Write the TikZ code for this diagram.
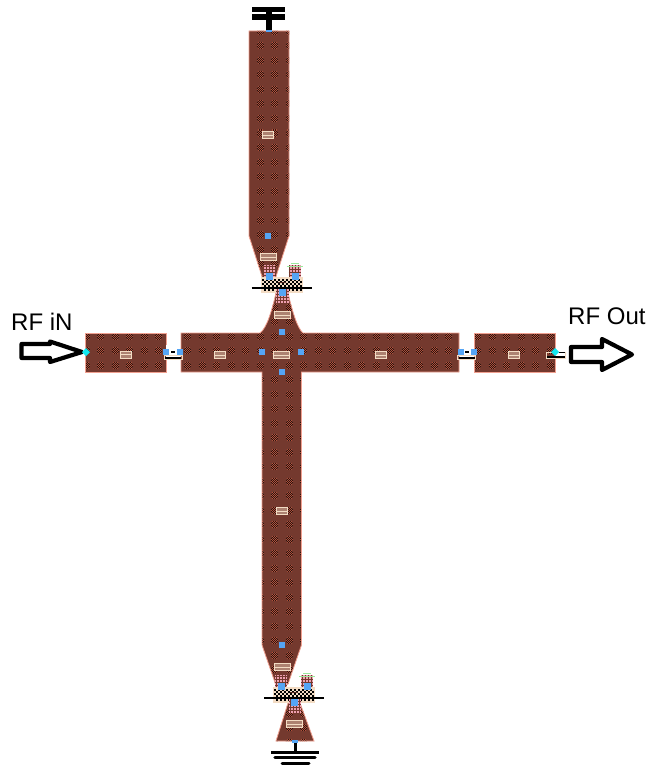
\documentclass[tikz,border=0pt]{standalone}
\usepackage{fontspec}
\setmainfont{Liberation Sans}
\definecolor{metal}{HTML}{74392E}
\definecolor{edgepink}{HTML}{F0A090}
\definecolor{viatan}{HTML}{F3DCC4}
\definecolor{portblue}{HTML}{55A5F5}
\definecolor{portcyan}{HTML}{10E8F0}
\definecolor{padpink}{HTML}{EFA0B0}
\definecolor{padgreen}{HTML}{9CE89C}
\definecolor{spotred}{HTML}{B4523C}
\definecolor{spotdark}{HTML}{2A1410}
\tikzset{
  spotcore/.style={spotred,line width=3pt,dash pattern=on 7pt off 7.5pt},
  spotcap/.style={spotred,line width=2pt,dash pattern=on 5pt off 9.5pt},
  spottwo/.style={spotdark,line width=1pt,dash pattern=on 1pt off 1pt on 1pt off 11.5pt},
  spotfour/.style={spotdark,line width=1pt,dash pattern=on 1pt off 1pt on 1pt off 1pt on 1pt off 1pt on 1pt off 7.5pt},
  spotthree/.style={spotdark,line width=1pt,dash pattern=on 1pt off 1pt on 1pt off 1pt on 1pt off 9.5pt}
}
\newcommand{\weaverow}[3]{%
  \draw[spotcore] (#1-3.5,#2) -- (#3,#2);
  \draw[spotcap] (#1-2.5,#2-2.5) -- (#3,#2-2.5) (#1-2.5,#2+2.5) -- (#3,#2+2.5);
  \draw[spottwo] (#1-1.5,#2-3) -- (#3,#2-3) (#1-1.5,#2+3) -- (#3,#2+3);
  \draw[spotfour] (#1-3.5,#2-1) -- (#3,#2-1) (#1-3.5,#2+1) -- (#3,#2+1);
  \draw[spotthree] (#1-2.5,#2-2) -- (#3,#2-2) (#1-2.5,#2) -- (#3,#2) (#1-2.5,#2+2) -- (#3,#2+2);}
\newcommand{\weavelattice}[4]{%
  \pgfmathsetmacro{\nexty}{#2+14.5}%
  \foreach \sy in {#2,\nexty,...,#4}{\weaverow{#1}{\sy}{#3}}}
\newcommand{\metalshape}[5]{%
  \fill[metal] #1;
  \begin{scope}\clip #1;
    \weavelattice{#2}{#3}{#4}{#5}
  \end{scope}
  \draw[edgepink,line width=.8pt] #1;}
\tikzset{
  x=1pt,y=-1pt,
  viamark/.pic={\fill[metal!55!viatan] (-5.5,-3.5) rectangle (5.5,3.5);
    \draw[viatan,line width=1pt] (-5.5,-3.5) rectangle (5.5,3.5);
    \draw[viatan,line width=1pt] (-5.5,0) -- (5.5,0);},
  bigvia/.pic={\fill[metal!55!viatan] (-8,-3.8) rectangle (8,3.8);
    \draw[viatan,line width=1pt] (-8,-3.8) rectangle (8,3.8);
    \draw[viatan,line width=1pt] (-8,0) -- (8,0);},
  blueport/.pic={\fill[portblue] (-3,-3) rectangle (3,3);},
  cyanport/.pic={\fill[portcyan] (-4,0) -- (0,-4) -- (4,0) -- (0,4) -- cycle;},
  gap/.pic={\fill[white] (-7,-7) rectangle (7,7);
    \fill[black] (-2,-1) rectangle (2,1);
    \draw[viatan,line width=1pt] (-9,3) rectangle (9,7);
    \draw[black,line width=1.5pt] (-8,5.8) -- (8,5.8);},
  fet/.pic={
    \fill[padpink] (-19,-23) rectangle (-7,-5);
    \foreach \a in {-18,-15,...,-8}{\draw[metal,line width=.7pt] (\a,-23) -- (\a,-5);}
    \foreach \b in {-22,-19,...,-6}{\draw[metal,line width=.7pt] (-19,\b) -- (-7,\b);}
    \fill[padpink] (7,-23) rectangle (19,-5);
    \foreach \a in {8,11,...,18}{\draw[metal,line width=.7pt] (\a,-23) -- (\a,-5);}
    \foreach \b in {-22,-19,...,-6}{\draw[metal,line width=.7pt] (7,\b) -- (19,\b);}
    \draw[padgreen,line width=.9pt] (5,-22) -- (21,-22) (9,-25) -- (17,-25);
    \fill[viatan] (-21,-11) rectangle (21,5);
    \foreach \a in {-20,-16,...,16}{\foreach \b in {-9,-5,-1}{\fill[black] (\a,\b) rectangle +(2,2);\fill[black] (\a+2,\b+2) rectangle +(2,2);}}
    \draw[black,line width=1.8pt] (-30,0) -- (30,0);
    \fill[padpink] (-5.5,1) rectangle (7,15);
    \foreach \a in {-4,-1,...,6}{\draw[metal,line width=.7pt] (\a,1) -- (\a,15);}
    \foreach \b in {3,6,...,14}{\draw[metal,line width=.7pt] (-5.5,\b) -- (7,\b);}
    \fill[portblue] (-16,-15.5) rectangle (-9,-8.5);
    \fill[portblue] (10,-15.5) rectangle (17,-8.5);
    \fill[portblue] (-3,1) rectangle (4,8);
    \draw[metal!70!black,line width=.7pt] (-4,-6) -- (4,-6);},
  hollowarrow/.style={draw=black,fill=white,line width=4.2pt,line join=round}
}
\begin{document}
\begin{tikzpicture}
\useasboundingbox (0,0) rectangle (661,765);
\fill[white] (0,0) rectangle (661,765);
\metalshape{(249,31) -- (289,31) -- (289,236) -- (275.5,278) -- (262.5,278) -- (249,236) -- cycle}{245.5}{17}{295}{285}
\metalshape{(276,293) -- (288,293) .. controls (292,310) and (297,328) .. (303,333) -- (459,333) -- (459,372) -- (301.5,372) -- (301.5,645) -- (288,684) -- (275.5,684) -- (262,645) -- (262,372) -- (181,372) -- (181,333) -- (260,333) .. controls (267,328) and (272,310) .. (276,293) -- cycle}{158.5}{278}{465}{690}
\metalshape{(85.5,333) rectangle (166,372)}{71.5}{321.5}{170}{380}
\metalshape{(474,333) rectangle (555,372)}{463}{321.5}{560}{380}
\metalshape{(288,703) -- (300,703) -- (314,741) -- (276,741) -- cycle}{260}{698.5}{320}{745}
\pic at (281.5,288) {fet};
\pic at (294,698) {fet};
\foreach \vx/\vy in {268/135,126/354.5,220/355,381/355,514/355,282/511}{\pic at (\vx,\vy) {viamark};}
\foreach \vx/\vy in {268/257,282/315,281/355,282/667,294/724}{\pic at (\vx,\vy) {bigvia};}
\pic at (173,352) {gap};
\pic at (466.5,352) {gap};
\draw[viatan,line width=1pt] (546,352) -- (565,352) -- (565,358) -- (546,358) -- cycle;
\draw[black,line width=1.4pt] (547,357) -- (565,357);
\draw[black,line width=1.4pt] (559,352.5) -- (565,352.5);
\foreach \px/\py in {268/235.5,282/332,262/352,301/352,282/372,282/645,166/352,180/352,460.5/352,474/352}{\pic at (\px,\py) {blueport};}
\node[inner sep=0pt,minimum width=6pt,minimum height=2pt,fill=portblue] (topport) at (269,31.5) {};
\coordinate (topstem) at (269,10);
\draw[black,line width=6pt] (topport.north) -- (topstem);
\draw[black,line width=5.5pt] (252,9.7) -- (285,9.7);
\draw[black,line width=5.5pt] (252,17.2) -- (285,17.2);
\node[inner sep=0pt,minimum width=6pt,minimum height=3pt,fill=portblue] (botport) at (295,741) {};
\coordinate (botstem) at (295,752);
\draw[black,line width=3pt] (botport.south) -- (botstem);
\draw[black,line width=3pt] (271,752) -- (319,752);
\draw[black,line width=3.5pt,line cap=round] (275,757.5) -- (315,757.5);
\draw[black,line width=3pt,line cap=round] (282,763) -- (309,763);
\draw[hollowarrow] (21.5,344) -- (50,344) -- (50,341.5) -- (82,352) -- (50,362) -- (50,358) -- (21.5,358) -- cycle;
\draw[hollowarrow] (571,347) -- (602,347) -- (602,339) -- (632,354.5) -- (602,370) -- (602,362) -- (571,362) -- cycle;
\pic at (86,352) {cyanport};
\pic at (555,352) {cyanport};
\node[inner sep=0pt,anchor=base west,font=\fontsize{24}{24}\selectfont] (rfin) at (11,330) {RF iN};
\node[inner sep=0pt,anchor=base west,font=\fontsize{24}{24}\selectfont] (rfout) at (568,324) {RF Out};
\end{tikzpicture}
\end{document}
